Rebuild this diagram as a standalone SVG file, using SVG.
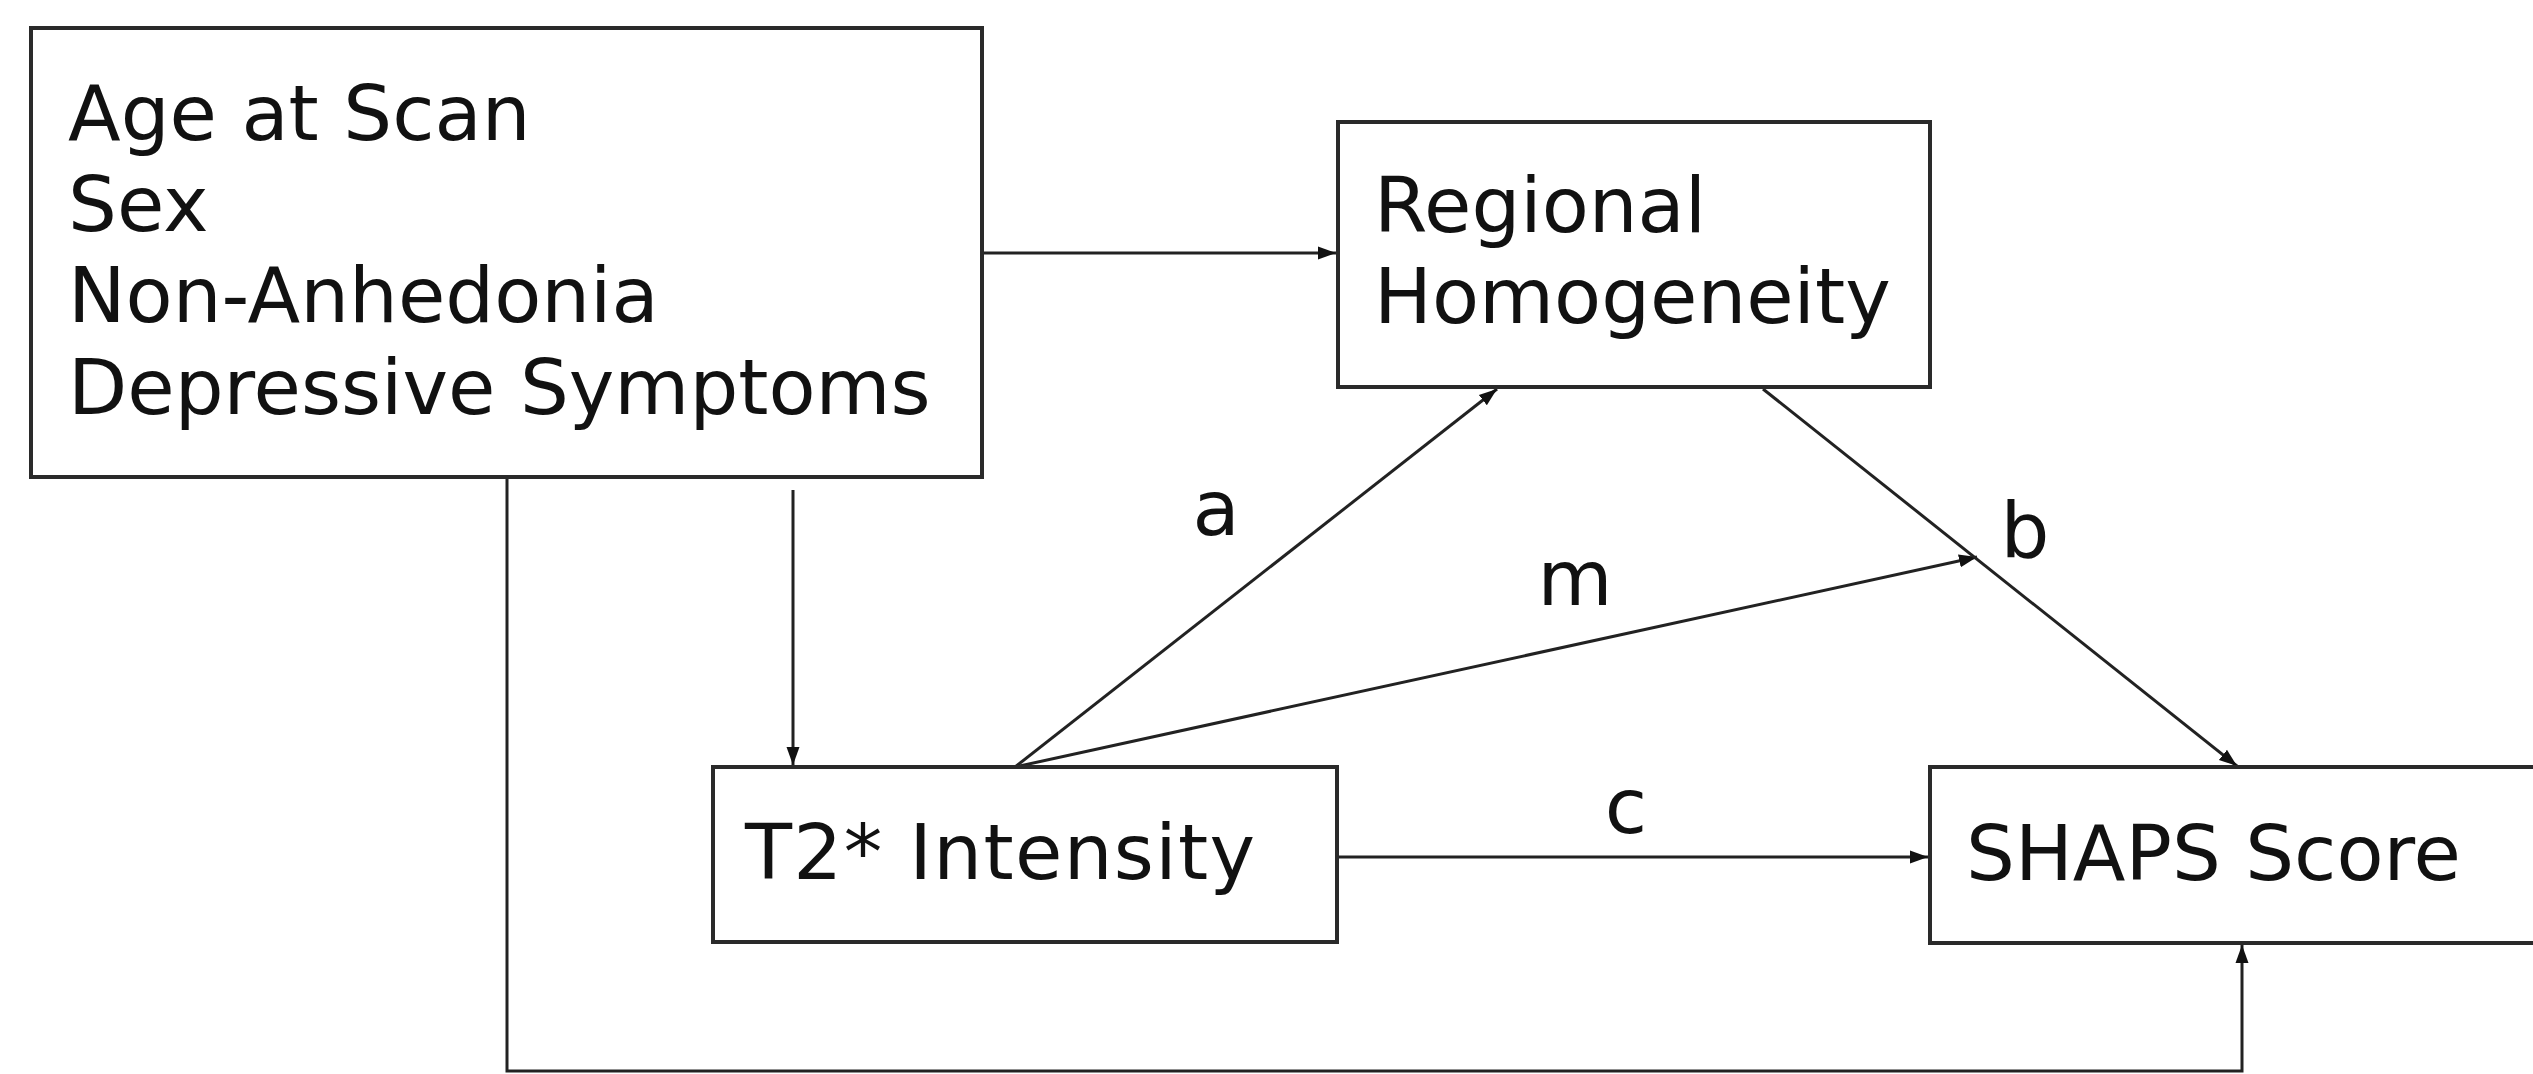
<svg xmlns="http://www.w3.org/2000/svg" width="2533" height="1074" viewBox="0 0 2533 1074">
<style>
.box{fill:#fff;stroke:#2a2a2a;stroke-width:4}
.t{font-family:"DejaVu Sans",Verdana,sans-serif;font-size:77px;fill:#111}
.lbl{font-family:"DejaVu Sans",Verdana,sans-serif;font-size:77px;fill:#111;text-anchor:middle}
.c{fill:none;stroke:#222;stroke-width:3}
</style>
<defs>
<marker id="ah" markerUnits="userSpaceOnUse" markerWidth="20" markerHeight="16" refX="18" refY="8" orient="auto">
<path d="M0,1.5 L18,8 L0,14.5 Z" fill="#111"/>
</marker>
</defs>
<rect width="2533" height="1074" fill="#fff"/>
<g id="connectors">
<line class="c" x1="982" y1="253" x2="1336" y2="253" marker-end="url(#ah)"/>
<line class="c" x1="793" y1="490" x2="793" y2="765" marker-end="url(#ah)"/>
<line class="c" x1="1015" y1="767" x2="1497" y2="389" marker-end="url(#ah)"/>
<line class="c" x1="1015" y1="767" x2="1977" y2="557" marker-end="url(#ah)"/>
<line class="c" x1="1763" y1="389" x2="2237" y2="766" marker-end="url(#ah)"/>
<line class="c" x1="1338" y1="857" x2="1928" y2="857" marker-end="url(#ah)"/>
<polyline class="c" points="507,478 507,1071 2242,1071 2242,945" marker-end="url(#ah)"/>
<text class="lbl" x="1216" y="535">a</text>
<text class="lbl" x="1575" y="605">m</text>
<text class="lbl" x="2025" y="557">b</text>
<text class="lbl" x="1626" y="833">c</text>
</g>
<g id="node-covariates">
<rect class="box" x="31" y="28" width="951" height="449"/>
<text class="t" x="68" y="140">Age at Scan</text>
<text class="t" x="68" y="231">Sex</text>
<text class="t" x="68" y="322">Non-Anhedonia</text>
<text class="t" x="68" y="414">Depressive Symptoms</text>
</g>
<g id="node-reho">
<rect class="box" x="1338" y="122" width="592" height="265"/>
<text class="t" x="1374" y="232">Regional</text>
<text class="t" x="1374" y="323">Homogeneity</text>
</g>
<g id="node-t2">
<rect class="box" x="713" y="767" width="624" height="175"/>
<text class="t" x="745" y="879" textLength="510">T2* Intensity</text>
</g>
<g id="node-shaps">
<rect class="box" x="1930" y="767" width="620" height="176"/>
<text class="t" x="1966" y="880">SHAPS Score</text>
</g>
</svg>
